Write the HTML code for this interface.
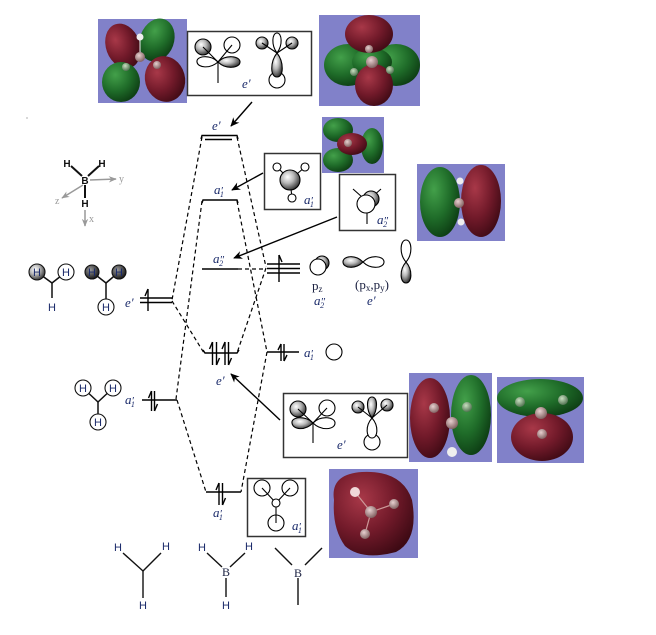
<!DOCTYPE html>
<html><head><meta charset="utf-8"><style>html,body{margin:0;padding:0;background:#fff}svg{display:block}</style></head>
<body>
<svg width="656" height="635" viewBox="0 0 656 635" xmlns="http://www.w3.org/2000/svg" font-family="'Liberation Serif', serif">
<defs>
<radialGradient id="sph" cx="38%" cy="35%" r="70%"><stop offset="0" stop-color="#ffffff"/><stop offset="0.45" stop-color="#b8b8b8"/><stop offset="1" stop-color="#2a2a2a"/></radialGradient>
<radialGradient id="sphd" cx="38%" cy="35%" r="70%"><stop offset="0" stop-color="#9a9a9a"/><stop offset="0.5" stop-color="#555"/><stop offset="1" stop-color="#111"/></radialGradient>
<radialGradient id="red" cx="35%" cy="32%" r="75%"><stop offset="0" stop-color="#a83848"/><stop offset="0.55" stop-color="#721a2a"/><stop offset="1" stop-color="#3e0a14"/></radialGradient>
<radialGradient id="grn" cx="35%" cy="32%" r="75%"><stop offset="0" stop-color="#43a04a"/><stop offset="0.55" stop-color="#1f6c29"/><stop offset="1" stop-color="#0c3a12"/></radialGradient>
<radialGradient id="atm" cx="40%" cy="35%" r="70%"><stop offset="0" stop-color="#e8d0d0"/><stop offset="1" stop-color="#7a5a5a"/></radialGradient>
<radialGradient id="atg" cx="40%" cy="35%" r="70%"><stop offset="0" stop-color="#c8e0c0"/><stop offset="1" stop-color="#4a6a4a"/></radialGradient>
<marker id="ah" viewBox="0 0 10 10" refX="9" refY="5" markerWidth="9" markerHeight="9" markerUnits="userSpaceOnUse" orient="auto"><path d="M0,0.5 L10,5 L0,9.5 L3,5 z" fill="#000"/></marker>
<marker id="ahg" viewBox="0 0 10 10" refX="9" refY="5" markerWidth="8" markerHeight="8" markerUnits="userSpaceOnUse" orient="auto"><path d="M0,1 L10,5 L0,9 L3,5 z" fill="#999"/></marker>
</defs>

<!-- ============ orbital renders ============ -->
<rect x="98" y="19" width="89" height="84" fill="#8181c9"/>
<ellipse cx="123" cy="46" rx="17" ry="23" transform="rotate(-20 123 46)" fill="url(#red)"/>
<ellipse cx="157" cy="40" rx="17" ry="22" transform="rotate(20 157 40)" fill="url(#grn)"/>
<ellipse cx="121" cy="82" rx="19" ry="20" fill="url(#grn)"/>
<ellipse cx="165" cy="79" rx="20" ry="23" transform="rotate(-15 165 79)" fill="url(#red)"/>
<line x1="140" y1="38" x2="140" y2="58" stroke="#eee" stroke-width="1"/>
<circle cx="140" cy="37" r="3.5" fill="#eee"/>
<circle cx="140" cy="57" r="5" fill="url(#atm)"/>
<circle cx="126" cy="67" r="4" fill="url(#atg)"/>
<circle cx="157" cy="65" r="4" fill="url(#atm)"/>

<rect x="319" y="15" width="101" height="91" fill="#8181c9"/>
<ellipse cx="348" cy="65" rx="24" ry="21" fill="url(#grn)"/>
<ellipse cx="396" cy="65" rx="24" ry="21" fill="url(#grn)"/>
<ellipse cx="372" cy="62" rx="20" ry="14" fill="url(#grn)"/>
<ellipse cx="369" cy="34" rx="24" ry="19" fill="url(#red)"/>
<ellipse cx="374" cy="85" rx="19" ry="21" fill="url(#red)"/>
<circle cx="369" cy="49" r="4" fill="url(#atm)"/>
<circle cx="372" cy="62" r="6" fill="url(#atm)"/>
<circle cx="354" cy="72" r="4" fill="url(#atg)"/>
<circle cx="390" cy="70" r="4" fill="url(#atg)"/>

<rect x="322" y="117" width="62" height="56" fill="#8181c9"/>
<ellipse cx="338" cy="130" rx="15" ry="12" fill="url(#grn)"/>
<ellipse cx="372" cy="146" rx="11" ry="18" fill="url(#grn)"/>
<ellipse cx="338" cy="160" rx="15" ry="12" fill="url(#grn)"/>
<ellipse cx="352" cy="144" rx="15" ry="11" fill="url(#red)"/>
<circle cx="348" cy="143" r="4" fill="url(#atm)"/>

<rect x="417" y="164" width="88" height="77" fill="#8181c9"/>
<ellipse cx="440" cy="202" rx="20" ry="35" fill="url(#grn)"/>
<ellipse cx="481" cy="201" rx="20" ry="36" fill="url(#red)"/>
<circle cx="460" cy="181" r="3.5" fill="#eee"/>
<circle cx="459" cy="203" r="5" fill="url(#atm)"/>
<circle cx="461" cy="222" r="3.5" fill="#eee"/>

<rect x="409" y="373" width="83" height="89" fill="#8181c9"/>
<ellipse cx="430" cy="418" rx="20" ry="40" fill="url(#red)"/>
<ellipse cx="471" cy="415" rx="20" ry="40" fill="url(#grn)"/>
<circle cx="434" cy="408" r="5" fill="url(#atm)"/>
<circle cx="452" cy="423" r="6" fill="url(#atm)"/>
<circle cx="467" cy="407" r="5" fill="url(#atg)"/>
<circle cx="452" cy="452" r="5" fill="#eee"/>

<rect x="497" y="377" width="87" height="86" fill="#8181c9"/>
<ellipse cx="540" cy="398" rx="43" ry="19" fill="url(#grn)"/>
<ellipse cx="542" cy="437" rx="31" ry="24" fill="url(#red)"/>
<circle cx="520" cy="402" r="5" fill="url(#atg)"/>
<circle cx="541" cy="413" r="6" fill="url(#atm)"/>
<circle cx="563" cy="400" r="5" fill="url(#atg)"/>
<circle cx="542" cy="434" r="5" fill="url(#atm)"/>

<rect x="329" y="469" width="89" height="89" fill="#8181c9"/>
<path d="M334,500 Q330,474 362,472 Q402,470 412,500 Q419,540 396,552 Q362,561 345,546 Q332,528 334,500 Z" fill="url(#red)"/>
<line x1="355" y1="492" x2="371" y2="512" stroke="#c99" stroke-width="1.2"/>
<line x1="371" y1="512" x2="394" y2="504" stroke="#c99" stroke-width="1.2"/>
<line x1="371" y1="512" x2="365" y2="534" stroke="#c99" stroke-width="1.2"/>
<circle cx="355" cy="492" r="5" fill="#f0d8d8"/>
<circle cx="371" cy="512" r="6" fill="url(#atm)"/>
<circle cx="394" cy="504" r="5" fill="url(#atm)"/>
<circle cx="365" cy="534" r="5" fill="url(#atm)"/>

<!-- ============ boxes ============ -->
<g stroke="#333" stroke-width="1.5" fill="#fff">
<rect x="187.5" y="31.5" width="124" height="64"/>
<rect x="264.5" y="153.5" width="56" height="56"/>
<rect x="339.5" y="174.5" width="56" height="56"/>
<rect x="283.5" y="393.5" width="124" height="64"/>
<rect x="247.5" y="478.5" width="58" height="58"/>
</g>

<g stroke="#000" stroke-width="1.1">
<path d="M218,62 C210,54 196,56 197,62 C198,68 210,69 218,62Z" fill="#fff"/>
<path d="M218,62 C226,54 240,56 240,62 C240,68 226,70 218,62Z" fill="url(#sph)"/>
<circle cx="203" cy="47" r="8" fill="url(#sph)"/>
<circle cx="232" cy="45" r="8" fill="#fff"/>
<line x1="218" y1="62" x2="203" y2="47"/>
<line x1="218" y1="62" x2="232" y2="45"/>
<line x1="218" y1="62" x2="218" y2="83"/>
<circle cx="277" cy="80" r="8" fill="#fff"/>
<path d="M277,53 C270,62 270,77 277,77 C284,77 284,62 277,53Z" fill="url(#sph)"/>
<path d="M277,53 C271,45 272,33 277,33 C282,33 283,45 277,53Z" fill="#fff"/>
<circle cx="262" cy="43" r="6" fill="url(#sph)"/>
<circle cx="292" cy="43" r="6" fill="url(#sph)"/>
<line x1="277" y1="53" x2="262" y2="43"/>
<line x1="277" y1="53" x2="292" y2="43"/>
</g>
<text x="242" y="88" font-size="13" font-style="italic" fill="#1a2a6a">e′</text>

<g stroke="#000" stroke-width="1.1">
<line x1="290" y1="180" x2="277" y2="167"/>
<line x1="290" y1="180" x2="305" y2="167"/>
<line x1="290" y1="180" x2="292" y2="198"/>
<circle cx="277" cy="167" r="4" fill="#fff"/>
<circle cx="305" cy="167" r="4" fill="#fff"/>
<circle cx="292" cy="198" r="4" fill="#fff"/>
<circle cx="290" cy="180" r="10" fill="url(#sph)"/>
</g>
<text x="304" y="204" font-size="13" font-style="italic" fill="#1a2a6a">a<tspan font-size="11">′</tspan><tspan font-size="8" dx="-3" dy="3">1</tspan></text>

<g stroke="#000" stroke-width="1.1">
<line x1="353" y1="189" x2="362" y2="197"/>
<line x1="381" y1="189" x2="372" y2="197"/>
<ellipse cx="371" cy="199" rx="8" ry="8" fill="url(#sph)"/>
<circle cx="366" cy="204" r="9" fill="#fff"/>
<line x1="367" y1="213" x2="367" y2="224"/>
</g>
<text x="377" y="224" font-size="13" font-style="italic" fill="#1a2a6a">a<tspan font-size="11">″</tspan><tspan font-size="8" dx="-5" dy="3">2</tspan></text>

<g stroke="#000" stroke-width="1.1">
<path d="M313,423 C305,415 291,417 292,423 C293,430 305,431 313,423Z" fill="url(#sph)"/>
<path d="M313,423 C321,415 335,417 335,423 C335,430 321,431 313,423Z" fill="#fff"/>
<circle cx="298" cy="409" r="8" fill="url(#sph)"/>
<circle cx="327" cy="408" r="8" fill="#fff"/>
<line x1="313" y1="423" x2="298" y2="409"/>
<line x1="313" y1="423" x2="327" y2="408"/>
<line x1="313" y1="423" x2="313" y2="443"/>
<circle cx="372" cy="442" r="8" fill="#fff"/>
<path d="M372,418 C365,426 366,438 372,438 C378,438 379,426 372,418Z" fill="#fff"/>
<path d="M372,418 C366,410 366,397 372,397 C378,397 378,410 372,418Z" fill="url(#sph)"/>
<circle cx="358" cy="407" r="6" fill="url(#sph)"/>
<circle cx="387" cy="405" r="6" fill="url(#sph)"/>
<line x1="372" y1="418" x2="358" y2="407"/>
<line x1="372" y1="418" x2="387" y2="405"/>
</g>
<text x="337" y="449" font-size="13" font-style="italic" fill="#1a2a6a">e′</text>

<g stroke="#000" stroke-width="1.1" fill="#fff">
<line x1="276" y1="503" x2="262" y2="488"/>
<line x1="276" y1="503" x2="290" y2="488"/>
<line x1="276" y1="503" x2="276" y2="523"/>
<circle cx="262" cy="488" r="8" fill="none"/>
<circle cx="290" cy="488" r="8" fill="none"/>
<circle cx="276" cy="523" r="8" fill="none"/>
<circle cx="276" cy="503" r="4"/>
</g>
<text x="292" y="530" font-size="13" font-style="italic" fill="#1a2a6a">a<tspan font-size="11">′</tspan><tspan font-size="8" dx="-3" dy="3">1</tspan></text>

<!-- ============ dashed correlation lines ============ -->
<g stroke="#000" stroke-width="1.2" stroke-dasharray="4,3" fill="none">
<line x1="202" y1="137" x2="172" y2="300"/>
<line x1="202" y1="201" x2="176" y2="399"/>
<line x1="172" y1="301" x2="204" y2="353"/>
<line x1="177" y1="400" x2="206" y2="492"/>
<line x1="237" y1="137" x2="266" y2="267"/>
<line x1="237" y1="201" x2="267" y2="352"/>
<line x1="238" y1="269" x2="266" y2="269"/>
<line x1="266" y1="268" x2="237" y2="353"/>
<line x1="267" y1="352" x2="241" y2="492"/>
</g>

<!-- ============ energy levels ============ -->
<g stroke="#000" stroke-width="1.4" fill="none">
<path d="M201,139 L202,135.5 L237,135.5 L238,139"/>
<line x1="205" y1="139.5" x2="232" y2="139.5"/>
<path d="M202,203 L203,200 L237,200 L238,203"/>
<line x1="202" y1="269" x2="238" y2="269"/>
<path d="M203,350 L205,353 L237,353 L239,350"/>
<line x1="206" y1="492" x2="241" y2="492"/>
<line x1="140" y1="298" x2="172" y2="298"/>
<line x1="140" y1="302.5" x2="172" y2="302.5"/>
<line x1="142" y1="400" x2="177" y2="400"/>
<line x1="267" y1="264" x2="300" y2="264"/>
<line x1="267" y1="268.5" x2="300" y2="268.5"/>
<line x1="267" y1="273" x2="300" y2="273"/>
<line x1="267" y1="352" x2="299" y2="352"/>
</g>
<g stroke="#000" stroke-width="1.4" fill="none">
<line x1="148" y1="289" x2="148" y2="311"/><path d="M148,289 L145,296"/>
<line x1="151.5" y1="391" x2="151.5" y2="411"/><path d="M151.5,391 L148.5,398"/>
<line x1="154.5" y1="391" x2="154.5" y2="411"/><path d="M154.5,411 L157.5,404"/>
<line x1="212.5" y1="342" x2="212.5" y2="365"/><path d="M212.5,342 L209.5,349"/>
<line x1="216.5" y1="342" x2="216.5" y2="365"/><path d="M216.5,365 L219.5,358"/>
<line x1="225" y1="342" x2="225" y2="365"/><path d="M225,342 L222,349"/>
<line x1="228.5" y1="342" x2="228.5" y2="365"/><path d="M228.5,365 L231.5,358"/>
<line x1="219" y1="483" x2="219" y2="505"/><path d="M219,483 L216,490"/>
<line x1="222.5" y1="483" x2="222.5" y2="505"/><path d="M222.5,505 L225.5,498"/>
<line x1="279" y1="255" x2="279" y2="282"/><path d="M279,255 L282,262"/>
<line x1="281" y1="344" x2="281" y2="361"/><path d="M281,344 L278,350"/>
<line x1="284" y1="344" x2="284" y2="361"/><path d="M284,361 L287,355"/>
</g>

<g font-size="13" font-style="italic" fill="#1a2a6a">
<text x="212" y="130">e′</text>
<text x="214" y="194">a<tspan font-size="11">′</tspan><tspan font-size="8" dx="-3" dy="3">1</tspan></text>
<text x="213" y="263">a<tspan font-size="11">″</tspan><tspan font-size="8" dx="-5" dy="3">2</tspan></text>
<text x="216" y="385">e′</text>
<text x="213" y="517">a<tspan font-size="11">′</tspan><tspan font-size="8" dx="-3" dy="3">1</tspan></text>
<text x="125" y="307">e′</text>
<text x="125" y="404">a<tspan font-size="11">′</tspan><tspan font-size="8" dx="-3" dy="3">1</tspan></text>
<text x="304" y="357">a<tspan font-size="11">′</tspan><tspan font-size="8" dx="-3" dy="3">1</tspan></text>
<text x="314" y="305">a<tspan font-size="11">″</tspan><tspan font-size="8" dx="-5" dy="3">2</tspan></text>
<text x="367" y="305">e′</text>
</g>
<g font-size="13" fill="#1a2040">
<text x="312" y="290">p<tspan font-size="9" dy="2">z</tspan></text>
<text x="355" y="289">(p<tspan font-size="9" dy="2">x</tspan><tspan dy="-2">,p</tspan><tspan font-size="9" dy="2">y</tspan><tspan dy="-2">)</tspan></text>
</g>

<g stroke="#000" stroke-width="1.1">
<ellipse cx="322" cy="263" rx="7" ry="7" fill="url(#sph)"/>
<circle cx="318" cy="267" r="8" fill="#fff"/>
<path d="M363,262 C355,254 343,256 343,262 C343,268 355,270 363,262Z" fill="url(#sph)"/>
<path d="M363,262 C371,254 384,256 384,262 C384,268 371,270 363,262Z" fill="#fff"/>
<path d="M406,262 C399,254 400,240 406,240 C412,240 413,254 406,262Z" fill="#fff"/>
<path d="M406,262 C399,270 400,283 406,283 C412,283 413,270 406,262Z" fill="url(#sph)"/>
<circle cx="334" cy="352" r="8" fill="#fff"/>
</g>

<g stroke="#000" stroke-width="1.4" fill="none" marker-end="url(#ah)">
<line x1="252" y1="102" x2="231" y2="126"/>
<line x1="263" y1="173" x2="232" y2="190"/>
<line x1="337" y1="217" x2="234" y2="258"/>
<line x1="280" y1="420" x2="231" y2="374"/>
</g>

<g stroke="#999" stroke-width="1.5" fill="none">
<line x1="90" y1="180" x2="116" y2="179" marker-end="url(#ahg)"/>
<line x1="83" y1="185" x2="62" y2="198" marker-end="url(#ahg)"/>
<line x1="85" y1="210" x2="85" y2="226" marker-end="url(#ahg)"/>
</g>
<g stroke="#111" stroke-width="2">
<line x1="82" y1="176" x2="71" y2="166"/>
<line x1="88" y1="176" x2="99" y2="166"/>
<line x1="85" y1="185" x2="85" y2="198"/>
</g>
<g font-family="'Liberation Sans', sans-serif" font-weight="bold" font-size="10" fill="#111" text-anchor="middle">
<text x="67" y="167">H</text>
<text x="102" y="167">H</text>
<text x="85" y="184">B</text>
<text x="85" y="207">H</text>
</g>
<g font-size="10" fill="#999">
<text x="119" y="182">y</text>
<text x="55" y="204">z</text>
<text x="89" y="222">x</text>
</g>
<circle cx="27" cy="118" r="0.6" fill="#777"/>

<g stroke="#111" stroke-width="1.5" fill="none">
<line x1="37" y1="272" x2="52" y2="283"/>
<line x1="66" y1="272" x2="52" y2="283"/>
<line x1="52" y1="283" x2="52" y2="298"/>
<line x1="92" y1="272" x2="106" y2="283"/>
<line x1="119" y1="272" x2="106" y2="283"/>
<line x1="106" y1="283" x2="106" y2="299"/>
<line x1="83" y1="388" x2="98" y2="402"/>
<line x1="113" y1="388" x2="98" y2="402"/>
<line x1="98" y1="402" x2="98" y2="414"/>
</g>
<g stroke="#111" stroke-width="1.1">
<circle cx="37" cy="272" r="8" fill="url(#sph)"/>
<circle cx="66" cy="272" r="8" fill="#fff"/>
<circle cx="92" cy="272" r="7" fill="url(#sphd)"/>
<circle cx="119" cy="272" r="7" fill="url(#sphd)"/>
<circle cx="106" cy="307" r="8" fill="#fff"/>
<circle cx="83" cy="388" r="8" fill="#fff"/>
<circle cx="113" cy="388" r="8" fill="#fff"/>
<circle cx="98" cy="422" r="8" fill="#fff"/>
</g>
<g font-family="'Liberation Sans', sans-serif" font-size="11" fill="#1a2a6a" text-anchor="middle">
<text x="37" y="276">H</text>
<text x="66" y="276">H</text>
<text x="52" y="311">H</text>
<text x="92" y="276">H</text>
<text x="119" y="276">H</text>
<text x="106" y="311">H</text>
<text x="83" y="392">H</text>
<text x="113" y="392">H</text>
<text x="98" y="426">H</text>
</g>

<g stroke="#111" stroke-width="1.4">
<line x1="123" y1="553" x2="143" y2="571"/>
<line x1="161" y1="553" x2="143" y2="571"/>
<line x1="143" y1="571" x2="143" y2="598"/>
<line x1="207" y1="553" x2="222" y2="567"/>
<line x1="245" y1="553" x2="230" y2="567"/>
<line x1="226" y1="578" x2="226" y2="597"/>
<line x1="275" y1="548" x2="292" y2="565"/>
<line x1="322" y1="548" x2="305" y2="565"/>
<line x1="298" y1="578" x2="298" y2="605"/>
</g>
<g font-family="'Liberation Sans', sans-serif" font-size="11" fill="#1a2a6a" text-anchor="middle">
<text x="118" y="551">H</text>
<text x="166" y="550">H</text>
<text x="143" y="609">H</text>
<text x="202" y="551">H</text>
<text x="249" y="550">H</text>
<text x="226" y="609">H</text>
</g>
<g font-size="12" fill="#1a2040" text-anchor="middle">
<text x="226" y="576">B</text>
<text x="298" y="577">B</text>
</g>
</svg>
</body></html>
